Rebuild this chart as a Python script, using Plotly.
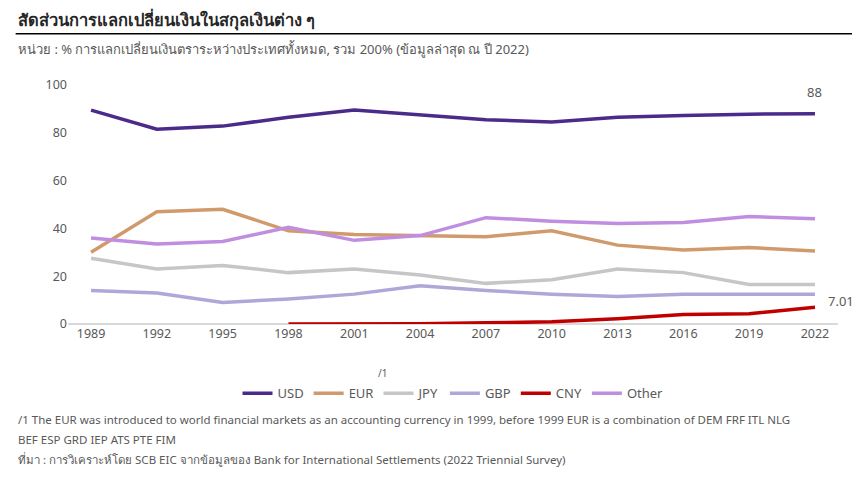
import plotly.graph_objects as go

years = ["1989","1992","1995","1998","2001","2004","2007","2010","2013","2016","2019","2022"]
usd = [89.5,81.5,82.8,86.5,89.5,87.5,85.5,84.5,86.5,87.2,87.8,88.0]
eur = [30,47,48,39,37.5,37,36.5,39,33,31,32,30.5]
jpy = [27.5,23,24.5,21.5,23,20.5,17,18.5,23,21.5,16.5,16.5]
gbp = [14,13,9,10.5,12.5,16,14,12.5,11.5,12.5,12.5,12.5]
cny = [None,None,None,0,0,0.1,0.5,0.9,2.2,4,4.3,7.01]
other = [36,33.5,34.5,40.5,35,37,44.5,43,42,42.5,45,44]

series = [("USD",usd,"#4b2a8a"),("EUR",eur,"#d09a6c"),("JPY",jpy,"#c6c6c6"),
          ("GBP",gbp,"#aea8d8"),("CNY",cny,"#c00000"),("Other",other,"#c08ee0")]

fig = go.Figure()
for name, vals, col in series:
    fig.add_trace(go.Scatter(x=years, y=vals, name=name, mode="lines",
                             line=dict(color=col, width=3.5)))

last = len(years) - 1
fig.add_annotation(x=last, y=usd[-1], text="88", showarrow=False, yshift=22,
                   font=dict(size=13, color="#595959"))
fig.add_annotation(x=last, y=cny[-1], text="7.01", showarrow=False, xshift=26, yshift=6,
                   font=dict(size=13, color="#595959"))

P = 238.0
def py(px):
    return (323 - px) / P

fig.update_layout(
    width=860, height=482, paper_bgcolor="white", plot_bgcolor="white",
    font=dict(family="Noto Sans", color="#595959"),
    margin=dict(l=60, r=30, t=77, b=166, autoexpand=False),
    showlegend=True,
    legend=dict(orientation="h", x=0.5, xanchor="center", y=py(392), yanchor="middle",
                font=dict(size=13, color="#595959"), itemwidth=30),
    xaxis=dict(showgrid=False, showline=False, ticks="", tickfont=dict(size=12.5),
               range=[-0.35, 11.35]),
    yaxis=dict(range=[0, 100], dtick=20, showgrid=False, zeroline=True,
               zerolinecolor="#d9d9d9", zerolinewidth=1.5, tickfont=dict(size=12.5)),
)

fig.add_annotation(xref="paper", yref="paper", x=-0.068, y=py(20), xanchor="left", yanchor="middle",
                   text="<b>สัดส่วนการแลกเปลี่ยนเงินในสกุลเงินต่าง ๆ</b>", showarrow=False,
                   font=dict(size=16.5, color="#262626"))
fig.add_shape(type="line", xref="paper", yref="paper", x0=-0.068, x1=1.04, y0=py(34), y1=py(34),
              line=dict(color="black", width=1.5))
fig.add_annotation(xref="paper", yref="paper", x=-0.068, y=py(49), xanchor="left", yanchor="middle",
                   text="หน่วย : % การแลกเปลี่ยนเงินตราระหว่างประเทศทั้งหมด, รวม 200% (ข้อมูลล่าสุด ณ ปี 2022)",
                   showarrow=False, font=dict(size=13, color="#595959"))
fig.add_annotation(xref="paper", yref="paper", x=(374-60)/770, y=py(381), text="/1", showarrow=False,
                   font=dict(size=10, color="#595959"))
notes = ["/1 The EUR was introduced to world financial markets as an accounting currency in 1999, before 1999 EUR is a combination of DEM FRF ITL NLG",
         "BEF ESP GRD IEP ATS PTE FIM",
         "ที่มา : การวิเคราะห์โดย SCB EIC จากข้อมูลของ Bank for International Settlements (2022 Triennial Survey)"]
for i, t in enumerate(notes):
    fig.add_annotation(xref="paper", yref="paper", x=-0.068, y=py(418 + 20*i), xanchor="left",
                       yanchor="middle", showarrow=False, text=t,
                       font=dict(size=11.5, color="#595959"))

fig.write_html("out.html")
